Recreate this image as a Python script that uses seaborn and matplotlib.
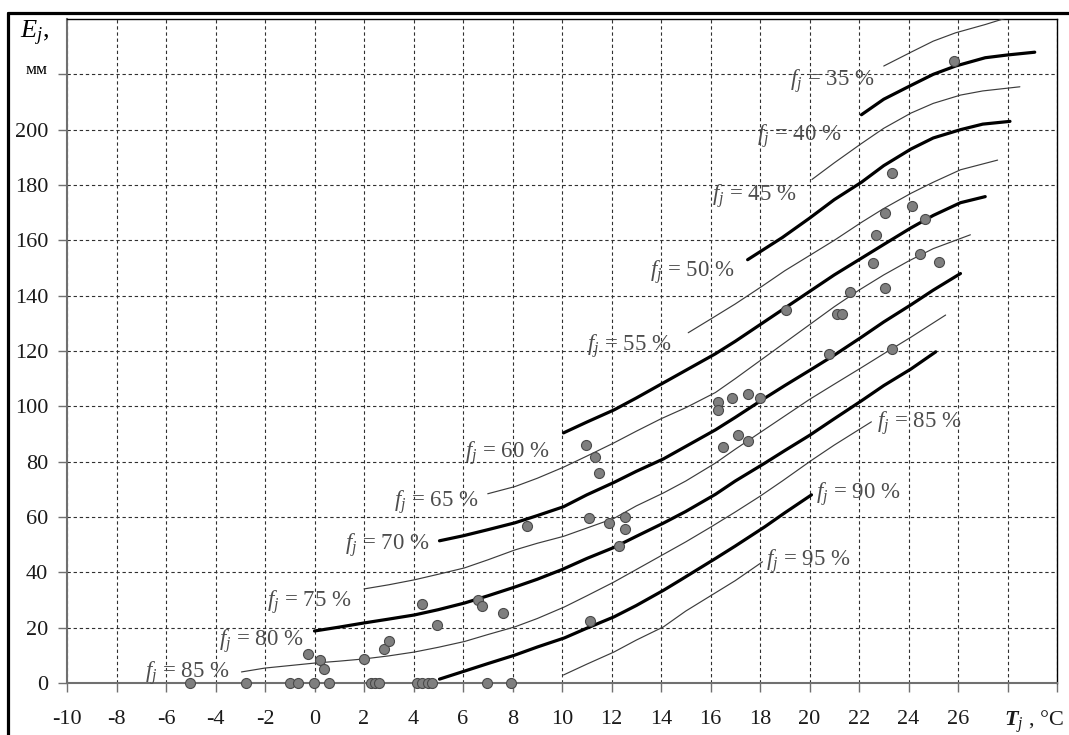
import numpy as np
import pandas as pd
import matplotlib
matplotlib.use("Agg")
import matplotlib.pyplot as plt
from matplotlib.lines import Line2D
import seaborn as sns

# E_j(T_j) curves for relative humidity f_j
t35 = [23.0, 24.1, 25.0, 25.9, 27.1, 28.0]
e35 = [223, 228, 232, 235, 238, 240.5]
t40 = [22.1, 23.0, 24.1, 25.0, 25.9, 27.1, 28.0, 29.1]
e40 = [205.4, 211, 216, 220, 223, 226, 227, 228]
t45 = [20.1, 21.0, 22.1, 23.0, 24.1, 25.0, 26.1, 27.0, 28.5]
e45 = [182, 188, 195, 200.5, 206, 209.5, 212.5, 214, 215.5]
t50 = [17.5, 18.9, 20.0, 21.0, 22.1, 23.0, 24.1, 25.0, 26.1, 27.0, 28.1]
e50 = [153, 161, 168, 174.7, 181, 187, 193, 197, 200, 202, 203]
t55 = [15.1, 16.0, 17.0, 18.1, 19.0, 20.0, 21.0, 22.1, 23.0, 24.1, 25.0, 26.1, 27.6]
e55 = [126.6, 131.5, 137, 143.5, 149, 154.5, 160, 166.5, 171.5, 177, 181, 185.5, 189]
t60 = [10.06, 11.0, 12.1, 13.0, 14.1, 15.0, 16.2, 17.0, 18.0, 19.0, 20.0, 21.0,
       22.0, 23.0, 24.1, 25.0, 26.1, 27.1]
e60 = [90.4, 94.3, 98.7, 103, 108.5, 113, 119, 123.5, 129.5, 135.5, 141.5, 147.5,
       153, 158.5, 164.5, 169, 173.6, 175.8]
t65 = [7.0, 8.1, 9.0, 10.06, 11.0, 12.1, 13.0, 14.0, 15.0, 16.2, 17.0, 18.0,
       19.0, 20.0, 21.0, 22.0, 23.0, 24.0, 25.0, 26.5]
e65 = [68.4, 71, 74, 78, 82, 86.8, 91, 95.5, 99.5, 105, 110, 116.5,
       123, 129.5, 136, 142, 147.5, 152.5, 157, 162]
t70 = [5.05, 6.0, 7.0, 8.1, 9.0, 10.06, 11.0, 12.1, 13.0, 14.1, 15.0, 16.2,
       17.0, 18.2, 19.0, 20.1, 21.0, 22.1, 23.0, 24.1, 25.0, 26.1]
e70 = [51.4, 53.2, 55.4, 57.9, 60.5, 63.7, 68, 72.5, 76.5, 81, 85.5, 91.5,
       96, 103, 107.5, 113.5, 118.5, 125, 130.5, 136.7, 142, 148]
t75 = [2.0, 3.0, 4.04, 5.0, 6.06, 7.0, 8.1, 9.0, 10.06, 11.0, 12.1, 13.0,
       14.1, 15.0, 16.2, 17.0, 18.0, 19.0, 20.0, 21.0, 22.1, 23.0, 24.1, 25.5]
e75 = [34, 35.5, 37.3, 39.3, 41.6, 44.5, 48.1, 50.5, 53, 56, 59.5, 64,
       68.7, 73, 79.5, 84.5, 90.5, 96.5, 102.5, 108, 114, 119, 125, 133]
t80 = [0, 1, 2, 3, 4.04, 5, 6.06, 7, 8.1, 9.0, 10.0, 11.0, 12.1, 13.0,
       14.1, 15.0, 16.2, 17.0, 18.2, 19.0, 20.0, 21.0, 22.1, 23.0, 24.1, 25.1]
e80 = [18.8, 20.2, 21.7, 23.1, 24.6, 26.5, 28.9, 31.5, 34.7, 37.5, 41, 45, 49, 53,
       57.8, 62, 68.2, 73, 79.5, 84, 89.5, 95.5, 102, 107.5, 113.5, 119.7]
t85 = [-2.95, -2, -1, 0, 1, 2, 3, 4.04, 5, 6.06, 7, 8.1, 9, 10.1, 11, 12.1,
       13, 14, 15, 16, 17, 18, 18.9, 20.1, 21.0, 22.5]
e85 = [4.0, 5.4, 6.3, 7.2, 7.9, 8.7, 9.8, 11.2, 12.9, 15, 17.5, 20.3, 23.3, 27.5, 31.5, 36.5,
       41, 46, 51, 56.3, 61.8, 67.5, 73, 80.6, 86, 94.4]
t90 = [5.05, 6.06, 7, 8.1, 9, 10.1, 11, 12.1, 13, 14.1, 14.8, 16.2, 17, 18.2, 19, 20.08]
e90 = [1.4, 4.3, 7, 10.1, 13, 16.3, 19.8, 23.9, 28, 33.5, 37.3, 45, 49.5, 56.5, 61.5, 68]
t95 = [10.06, 11, 12.1, 13, 14.1, 15, 15.6, 17, 18.1]
e95 = [2.9, 6.8, 11.2, 15.5, 20.3, 26, 29.3, 37, 43.8]

HUMIDITY = [35, 40, 45, 50, 55, 60, 65, 70, 75, 80, 85, 90, 95]
CURVES_T = [t35, t40, t45, t50, t55, t60, t65, t70, t75, t80, t85, t90, t95]
CURVES_E = [e35, e40, e45, e50, e55, e60, e65, e70, e75, e80, e85, e90, e95]

# observed points
obs_t = [-5.05, -2.75, -1.0, -0.65, -0.04, 0.57, 2.3, 2.45, 2.6, 4.15, 4.35, 4.6, 4.75, 6.95, 7.95,
         -0.25, 0.24, 0.4, 2.0, 2.8, 3.0, 4.35, 4.93, 6.6, 6.75, 7.6, 8.6,
         10.95, 11.35, 11.5, 11.1, 11.9, 12.55, 12.55, 12.3, 11.15,
         16.3, 16.3, 16.85, 17.5, 18.0, 16.5, 17.1, 17.5,
         25.85, 23.35, 23.07, 24.16, 24.65, 22.67, 22.55, 24.45, 25.25, 21.65,
         23.07, 19.07, 21.1, 21.3, 20.77, 23.35]
obs_e = [0] * 15 + \
        [10.5, 8.3, 5.1, 8.7, 12.3, 15.2, 28.6, 21.0, 30.0, 27.8, 25.3, 56.8,
         86.0, 81.7, 76.0, 59.7, 57.9, 60.0, 55.7, 49.5, 22.4,
         101.6, 98.7, 103.0, 104.5, 103.0, 85.4, 89.7, 87.5,
         225.0, 184.5, 170.0, 172.5, 167.8, 162.0, 151.9, 155.2, 152.3, 141.4,
         142.9, 134.9, 133.5, 133.5, 119.0, 120.8]

x_ticks = list(range(-10, 31, 2))
x_ticklabels = [str(v) if v <= 26 else '' for v in x_ticks]
y_ticks = list(range(0, 221, 20))
y_ticklabels = [str(v) if v <= 200 else '' for v in y_ticks]

# label placement: (f, T, E, align)
label_pos = [(35, 22.63, 219.2, 'right'), (40, 21.29, 199.3, 'right'),
             (45, 19.47, 177.6, 'right'), (50, 16.97, 150.1, 'right'),
             (55, 14.42, 123.3, 'right'), (60, 9.49, 84.6, 'right'),
             (65, 6.63, 66.9, 'right'), (70, 4.65, 51.7, 'right'),
             (75, 1.49, 31.1, 'right'), (80, -0.44, 17.0, 'right'),
             (85, -3.43, 5.1, 'right'), (85, 22.71, 95.8, 'left'),
             (90, 20.28, 69.8, 'left'), (95, 18.26, 45.6, 'left')]

rows = []
for f, ts, es in zip(HUMIDITY, CURVES_T, CURVES_E):
    for t, e in zip(ts, es):
        rows.append((f, t, e))
curves = pd.DataFrame(rows, columns=['f', 'T', 'E'])
points = pd.DataFrame({'T': obs_t, 'E': obs_e})

sns.set_theme(style='white')
plt.rcParams['font.family'] = ['Liberation Serif', 'DejaVu Serif']
plt.rcParams['mathtext.fontset'] = 'custom'
plt.rcParams['mathtext.rm'] = 'Liberation Serif'
plt.rcParams['mathtext.it'] = 'Liberation Serif:italic'
plt.rcParams['mathtext.bf'] = 'Liberation Serif:bold'
plt.rcParams['mathtext.bfit'] = 'Liberation Serif:italic:bold'

fig = plt.figure(figsize=(10.69, 7.35), dpi=100)
ax = fig.add_axes([67 / 1069, 1 - 683 / 735, (1057 - 67) / 1069, (683 - 19) / 735])

for f in HUMIDITY:
    thick = (f % 10 == 0)
    sns.lineplot(data=curves[curves['f'] == f], x='T', y='E', sort=False,
                 estimator=None, color='black' if thick else '#3c3c3c',
                 linewidth=2.3 if thick else 0.85, ax=ax, legend=False, zorder=3)

sns.scatterplot(data=points, x='T', y='E', s=52, color='#7f7f7f',
                edgecolor='#4a4a4a', linewidth=0.8, ax=ax, zorder=5, clip_on=False)

for f, t, e, ha in label_pos:
    ax.text(t, e, r'$f_j$' + f' = {f} %', ha=ha, va='center_baseline',
            fontsize=16.5, color='#4d4d4d', zorder=4)

ax.set_xlim(-10, 30)
ax.set_ylim(0, 240)
ax.set_xticks(x_ticks)
ax.set_xticklabels(x_ticklabels)
ax.set_yticks(y_ticks)
ax.set_yticklabels(y_ticklabels)
ax.set_xlabel('')
ax.set_ylabel('')
ax.grid(True, color='#303030', linestyle=(0, (3, 2.5)), linewidth=0.8)
ax.tick_params(axis='x', direction='out', length=6.5, width=1, color='#707070',
               labelsize=16, labelcolor='#1a1a1a', pad=13, bottom=True)
ax.tick_params(axis='y', direction='out', length=6.5, width=1, color='#707070',
               labelsize=16, labelcolor='#1a1a1a', pad=7, left=True)
for side in ['left', 'bottom']:
    ax.spines[side].set_color('#707070')
    ax.spines[side].set_linewidth(1.5)
for side in ['top', 'right']:
    ax.spines[side].set_color('black')
    ax.spines[side].set_linewidth(1.0)

fig.text(35 / 1069, 1 - 33 / 735, r'$E_j$,', ha='center', va='center',
         fontsize=19, color='black')
fig.text(37 / 1069, 1 - 70 / 735, 'мм', ha='center', va='center',
         fontsize=12.5, color='black')
fig.text(1034 / 1069, 1 - 722 / 735, r'$\mathbfit{T}_j$ , °C', ha='center',
         va='center', fontsize=16, color='#1a1a1a')

# outer frame
fig.add_artist(Line2D([8 / 1069, 8 / 1069], [0, 1 - 13 / 735], color='black',
                      linewidth=2.3, transform=fig.transFigure))
fig.add_artist(Line2D([8 / 1069, 1], [1 - 13 / 735, 1 - 13 / 735], color='black',
                      linewidth=2.3, transform=fig.transFigure))

fig.savefig('out.png', dpi=100)
